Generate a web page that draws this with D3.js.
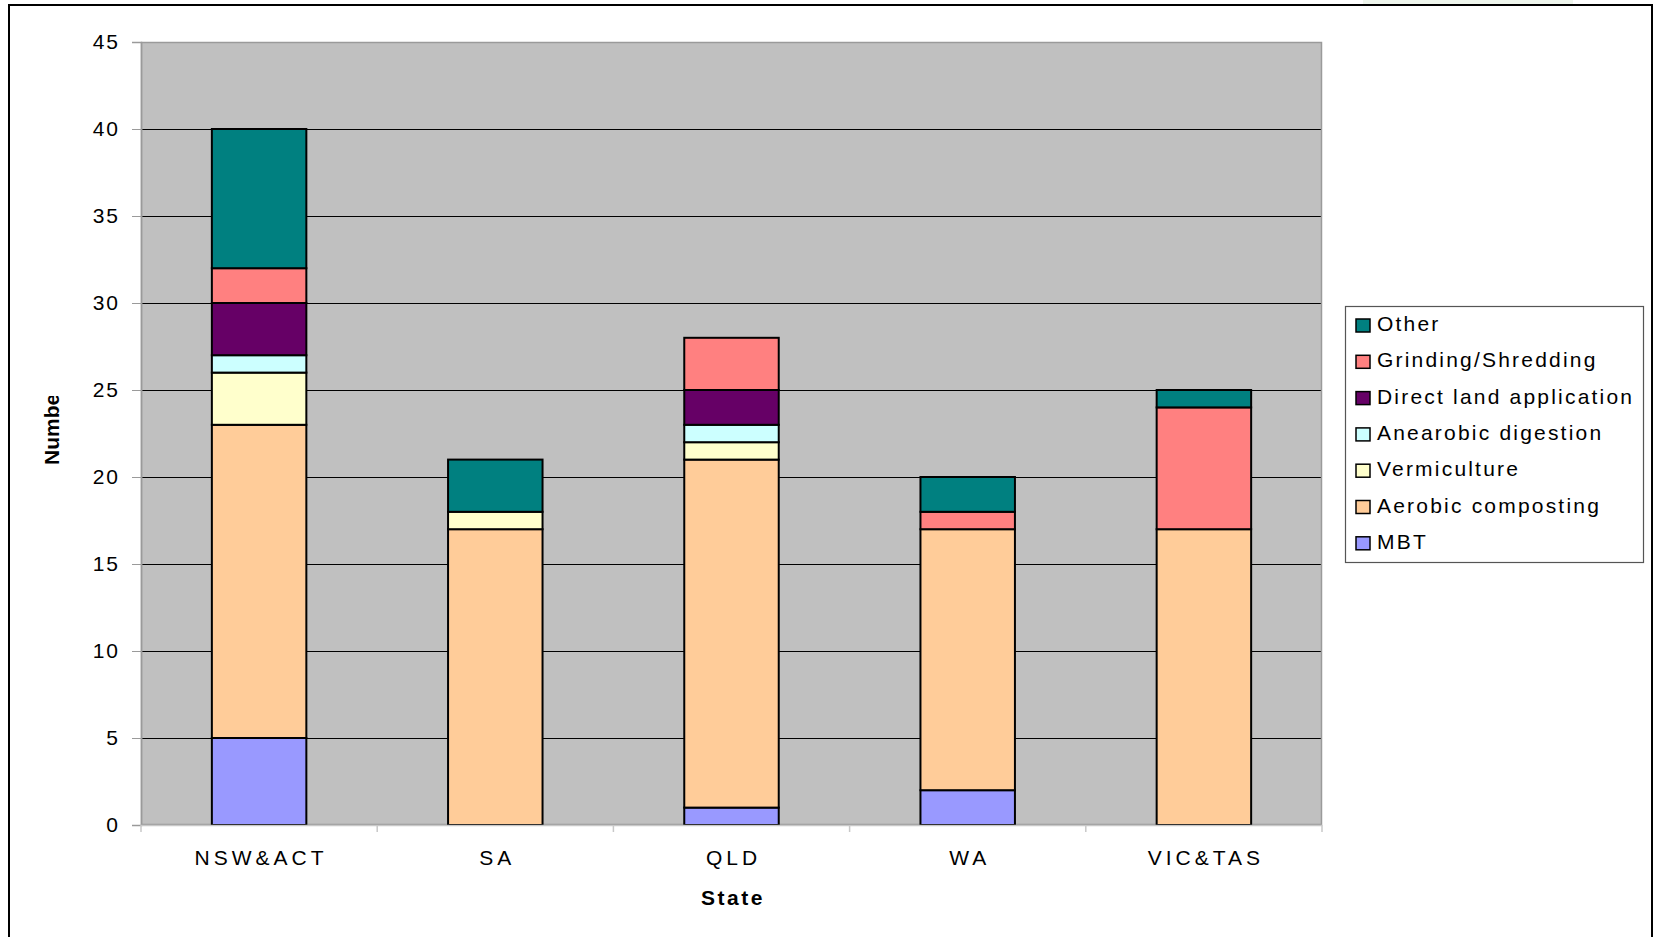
<!DOCTYPE html>
<html>
<head>
<meta charset="utf-8">
<script src="https://cdn.jsdelivr.net/npm/d3@7"></script>
<style>
  html, body { margin: 0; padding: 0; background: #ffffff; }
  svg { display: block; font-family: "Liberation Sans", Arial, sans-serif; }
</style>
</head>
<body>
<svg id="chart" width="1655" height="937"></svg>
<script>
// Facilities by state and processing technology
const states = ["NSW&ACT", "SA", "QLD", "WA", "VIC&TAS"];
const seriesNames = ["MBT", "Aerobic composting", "Vermiculture", "Anearobic digestion",
                     "Direct land application", "Grinding/Shredding", "Other"];
const mbt        = [5, 0, 1, 2, 0];
const aerobic    = [18, 17, 20, 15, 17];
const vermi      = [3, 1, 1, 0, 0];
const anaerobic  = [1, 0, 1, 0, 0];
const directLand = [3, 0, 2, 0, 0];
const grinding   = [2, 0, 3, 1, 7];
const other      = [8, 3, 0, 2, 1];
const yTicks = [0, 5, 10, 15, 20, 25, 30, 35, 40, 45];
const colors = ["#9999FF", "#FFCC99", "#FFFFCC", "#CCFFFF", "#660066", "#FF8080", "#008080"];

const seriesValues = [mbt, aerobic, vermi, anaerobic, directLand, grinding, other];
const rows = states.map((s, i) => {
  const r = { state: s };
  seriesNames.forEach((n, k) => { r[n] = seriesValues[k][i]; });
  return r;
});

const svg = d3.select("#chart");
const plot = { left: 141, top: 42, right: 1322, bottom: 825 };

// faint mark above the frame
svg.append("rect").attr("x", 1363).attr("y", 0).attr("width", 210).attr("height", 5)
  .attr("fill", "#eef5ec");

// outer frame
svg.append("rect").attr("x", 9).attr("y", 5).attr("width", 1643).attr("height", 960)
  .attr("fill", "none").attr("stroke", "#000").attr("stroke-width", 2);

const x = d3.scaleBand().domain(states).range([plot.left, plot.right])
  .paddingInner(0.6).paddingOuter(0.3);
const y = d3.scaleLinear().domain([0, 45]).range([plot.bottom, plot.top]);

// plot background
svg.append("rect").attr("x", plot.left).attr("y", plot.top)
  .attr("width", plot.right - plot.left).attr("height", plot.bottom - plot.top)
  .attr("fill", "#C0C0C0");

// gridlines
svg.append("g").selectAll("line").data(yTicks.filter(t => t > 0 && t < 45)).join("line")
  .attr("x1", plot.left).attr("x2", plot.right)
  .attr("y1", d => Math.round(y(d)) + 0.5).attr("y2", d => Math.round(y(d)) + 0.5)
  .attr("stroke", "#000").attr("stroke-width", 1);

// plot border
svg.append("rect").attr("x", plot.left + 0.5).attr("y", plot.top + 0.5)
  .attr("width", plot.right - plot.left - 1).attr("height", plot.bottom - plot.top - 1)
  .attr("fill", "none").attr("stroke", "#9a9a9a").attr("stroke-width", 1.5);

// stacked bars
const stack = d3.stack().keys(seriesNames)(rows);
const layers = svg.append("g").selectAll("g").data(stack).join("g")
  .attr("fill", (d, i) => colors[i]);
layers.selectAll("rect").data(d => d.filter(p => p[1] - p[0] > 0)).join("rect")
  .attr("x", d => x(d.data.state))
  .attr("width", x.bandwidth())
  .attr("y", d => y(d[1]))
  .attr("height", d => y(d[0]) - y(d[1]))
  .attr("stroke", "#000").attr("stroke-width", 2);

// y axis
const yAxis = svg.append("g").attr("transform", `translate(${plot.left},0)`)
  .call(d3.axisLeft(y).tickValues(yTicks).tickSize(9).tickPadding(12));
yAxis.select(".domain").attr("stroke", "#9a9a9a").attr("stroke-width", 1.5);
yAxis.selectAll(".tick line").attr("stroke", "#9a9a9a");
yAxis.selectAll(".tick text").attr("font-size", 21).attr("fill", "#000")
  .attr("font-family", "Liberation Sans, Arial, sans-serif")
  .style("letter-spacing", "2px");

// x axis with ticks between categories
const xAxisG = svg.append("g").attr("transform", `translate(0,${plot.bottom})`);
xAxisG.append("line").attr("x1", plot.left).attr("x2", plot.right).attr("y1", 0.5).attr("y2", 0.5)
  .attr("stroke", "#c8c8c8").attr("stroke-width", 1.5);
const step = x.step();
const boundaries = d3.range(states.length + 1).map(i => plot.left + i * step);
xAxisG.selectAll("line.tk").data(boundaries).join("line").attr("class", "tk")
  .attr("x1", d => d).attr("x2", d => d).attr("y1", 0).attr("y2", 7)
  .attr("stroke", "#c8c8c8").attr("stroke-width", 1.5);
xAxisG.selectAll("text").data(states).join("text")
  .attr("x", d => x(d) + x.bandwidth() / 2 + 2)
  .attr("y", 40)
  .attr("text-anchor", "middle")
  .attr("font-size", 21)
  .style("letter-spacing", "4px")
  .text(d => d);

// axis titles
svg.append("text").attr("x", 733).attr("y", 905).attr("text-anchor", "middle")
  .attr("font-size", 21).attr("font-weight", "bold").style("letter-spacing", "2.5px")
  .text("State");

svg.append("clipPath").attr("id", "ylabclip")
  .append("rect").attr("x", 0).attr("y", 396).attr("width", 100).attr("height", 200);
svg.append("g").attr("clip-path", "url(#ylabclip)")
  .append("text").attr("transform", "translate(59,465) rotate(-90)")
  .attr("font-size", 21).attr("font-weight", "bold")
  .text("Number");

// legend
const legend = svg.append("g");
legend.append("rect").attr("x", 1345.5).attr("y", 306.5).attr("width", 298).attr("height", 256)
  .attr("fill", "#fff").attr("stroke", "#555").attr("stroke-width", 1.2);
const legendOrder = seriesNames.map((n, i) => ({ name: n, color: colors[i] })).reverse();
const items = legend.selectAll("g.item").data(legendOrder).join("g").attr("class", "item")
  .attr("transform", (d, i) => `translate(0,${331 + i * 36.3})`);
items.append("rect").attr("x", 1356).attr("y", -12).attr("width", 14).attr("height", 13)
  .attr("fill", d => d.color).attr("stroke", "#000").attr("stroke-width", 1.5);
items.append("text").attr("x", 1377).attr("y", 0).attr("font-size", 21)
  .style("letter-spacing", "2.2px").text(d => d.name);
</script>
</body>
</html>
